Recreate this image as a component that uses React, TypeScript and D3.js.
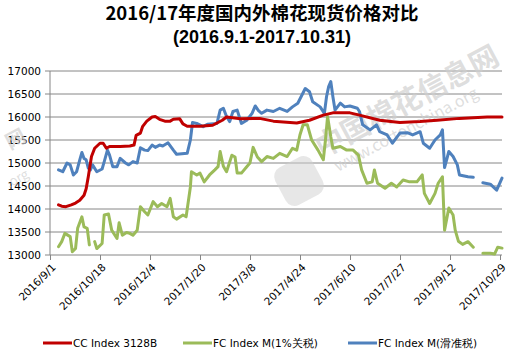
import React from "react";
import * as d3 from "d3";

const titleLine1 = "2016/17年度国内外棉花现货价格对比";
const titleLine2 = "(2016.9.1-2017.10.31)";

const yTicks = [13000, 13500, 14000, 14500, 15000, 15500, 16000, 16500, 17000];
const xTickDates = ["2016-09-01", "2016-10-18", "2016-12-04", "2017-01-20", "2017-03-08", "2017-04-24", "2017-06-10", "2017-07-27", "2017-09-12", "2017-10-29"];
const xTickLabels = ["2016/9/1", "2016/10/18", "2016/12/4", "2017/1/20", "2017/3/8", "2017/4/24", "2017/6/10", "2017/7/27", "2017/9/12", "2017/10/29"];

const seriesNames = ["CC Index 3128B", "FC Index M(1%关税)", "FC Index M(滑准税)"];
const seriesColors = ["#C00000", "#9BBB59", "#4F81BD"];

const ccIndex: [string, number | null][] = [
  ["2016-09-09", 14090], ["2016-09-12", 14060], ["2016-09-16", 14050], ["2016-09-21", 14090],
  ["2016-09-25", 14130], ["2016-09-29", 14190], ["2016-10-03", 14300], ["2016-10-05", 14440],
  ["2016-10-07", 14700], ["2016-10-10", 15140], ["2016-10-13", 15320], ["2016-10-18", 15430],
  ["2016-10-21", 15430], ["2016-10-24", 15320], ["2016-10-27", 15360], ["2016-11-06", 15360],
  ["2016-11-15", 15370], ["2016-11-19", 15390], ["2016-11-21", 15600], ["2016-11-25", 15650],
  ["2016-11-27", 15790], ["2016-12-01", 15910], ["2016-12-06", 16000], ["2016-12-09", 16010],
  ["2016-12-13", 15950], ["2016-12-18", 15910], ["2016-12-23", 15910], ["2016-12-26", 15950],
  ["2017-01-01", 15960], ["2017-01-04", 15850], ["2017-01-08", 15800], ["2017-01-20", 15800],
  ["2017-02-01", 15820], ["2017-02-10", 15930], ["2017-02-14", 16000], ["2017-02-27", 15960],
  ["2017-03-11", 15970], ["2017-03-17", 15970], ["2017-03-30", 15910], ["2017-04-21", 15870],
  ["2017-05-03", 15930], ["2017-05-16", 16040], ["2017-05-25", 16090], ["2017-06-10", 16090],
  ["2017-06-19", 16040], ["2017-07-08", 15930], ["2017-07-27", 15880], ["2017-08-15", 15900],
  ["2017-08-31", 15930], ["2017-09-21", 15970], ["2017-10-17", 16000], ["2017-10-31", 16000],
];

const fcIndex1pct: [string, number | null][] = [
  ["2016-09-09", 13180], ["2016-09-12", 13290], ["2016-09-15", 13470], ["2016-09-20", 13400],
  ["2016-09-22", 13070], ["2016-09-25", 13140], ["2016-09-27", 13580], ["2016-10-01", 13830],
  ["2016-10-03", 13610], ["2016-10-06", 13580], ["2016-10-08", 13220], ["2016-10-10", null],
  ["2016-10-13", 13290], ["2016-10-15", 13140], ["2016-10-20", 13250], ["2016-10-22", 13870],
  ["2016-10-26", 13890], ["2016-10-29", 13540], ["2016-11-03", 13360], ["2016-11-05", 13700],
  ["2016-11-08", 13430], ["2016-11-12", 13490], ["2016-11-15", 13470], ["2016-11-18", 13430],
  ["2016-11-22", 13540], ["2016-11-25", 14050], ["2016-11-29", 13940], ["2016-12-02", 13870],
  ["2016-12-07", 14160], ["2016-12-11", 14050], ["2016-12-15", 14120], ["2016-12-20", 14050],
  ["2016-12-23", 14230], ["2016-12-26", 13830], ["2016-12-29", 13780], ["2017-01-04", 13870],
  ["2017-01-07", 13830], ["2017-01-11", 14480], ["2017-01-12", 14810], ["2017-01-17", 14740],
  ["2017-01-20", 14780], ["2017-01-24", 14590], ["2017-01-29", 14740], ["2017-02-03", 14850],
  ["2017-02-06", 14920], ["2017-02-08", 15250], ["2017-02-11", 14930], ["2017-02-14", 14810],
  ["2017-02-19", 15170], ["2017-02-22", 15130], ["2017-02-24", 14780], ["2017-02-28", 14780],
  ["2017-03-05", 14920], ["2017-03-08", 15000], ["2017-03-11", 15340], ["2017-03-15", 15130],
  ["2017-03-19", 15030], ["2017-03-24", 15140], ["2017-03-30", 15100], ["2017-04-05", 15210],
  ["2017-04-12", 15140], ["2017-04-17", 15320], ["2017-04-21", 15280], ["2017-04-24", 15610],
  ["2017-04-27", 15830], ["2017-05-01", 15830], ["2017-05-05", 15500], ["2017-05-11", 15280],
  ["2017-05-16", 15070], ["2017-05-18", 15500], ["2017-05-20", 16010], ["2017-05-23", 15570],
  ["2017-05-25", 15320], ["2017-06-01", 15360], ["2017-06-07", 15280], ["2017-06-13", 15280],
  ["2017-06-18", 15170], ["2017-06-21", 14850], ["2017-06-26", 14560], ["2017-07-01", 14590],
  ["2017-07-03", 14850], ["2017-07-06", 14560], ["2017-07-13", 14450], ["2017-07-19", 14560],
  ["2017-07-24", 14480], ["2017-07-30", 14630], ["2017-08-05", 14590], ["2017-08-12", 14590],
  ["2017-08-17", 14740], ["2017-08-19", 14340], ["2017-08-24", 14120], ["2017-08-29", 14340],
  ["2017-09-01", 14560], ["2017-09-05", 14700], ["2017-09-07", 13540], ["2017-09-11", 14020],
  ["2017-09-15", 13870], ["2017-09-17", 13540], ["2017-09-20", 13300], ["2017-09-24", 13230],
  ["2017-09-29", 13290], ["2017-10-04", 13170], ["2017-10-08", null], ["2017-10-13", 13040],
  ["2017-10-20", 13040], ["2017-10-24", 13020], ["2017-10-27", 13170], ["2017-10-31", 13150],
];

const fcIndexSliding: [string, number | null][] = [
  ["2016-09-09", 14850], ["2016-09-13", 14810], ["2016-09-17", 15000], ["2016-09-20", 14960],
  ["2016-09-23", 14740], ["2016-09-26", 14810], ["2016-09-29", 15070], ["2016-10-01", 15230],
  ["2016-10-03", 15100], ["2016-10-05", 15070], ["2016-10-07", 14890], ["2016-10-09", 14850],
  ["2016-10-11", 14960], ["2016-10-15", 14810], ["2016-10-20", 14870], ["2016-10-22", 15030],
  ["2016-10-25", 15280], ["2016-10-27", 15170], ["2016-10-30", 14920], ["2016-11-03", 14920],
  ["2016-11-06", 15100], ["2016-11-11", 15000], ["2016-11-14", 14960], ["2016-11-18", 15030],
  ["2016-11-22", 15000], ["2016-11-25", 15330], ["2016-11-29", 15280], ["2016-12-02", 15270],
  ["2016-12-06", 15390], ["2016-12-09", 15340], ["2016-12-13", 15390], ["2016-12-16", 15370],
  ["2016-12-21", 15440], ["2016-12-26", 15280], ["2016-12-29", 15190], ["2017-01-08", 15210],
  ["2017-01-11", 15500], ["2017-01-13", 15880], ["2017-01-17", 15860], ["2017-01-23", 15790],
  ["2017-01-27", 15840], ["2017-02-05", 15860], ["2017-02-08", 16150], ["2017-02-11", 16190],
  ["2017-02-14", 16010], ["2017-02-17", 15900], ["2017-02-20", 16120], ["2017-02-24", 16150],
  ["2017-02-28", 15860], ["2017-03-05", 15930], ["2017-03-10", 16080], ["2017-03-13", 16240],
  ["2017-03-16", 16140], ["2017-03-19", 16080], ["2017-03-24", 16150], ["2017-03-30", 16120],
  ["2017-04-05", 16190], ["2017-04-12", 16120], ["2017-04-17", 16220], ["2017-04-22", 16300],
  ["2017-04-29", 16620], ["2017-05-03", 16550], ["2017-05-06", 16330], ["2017-05-13", 16220],
  ["2017-05-17", 16080], ["2017-05-19", 16440], ["2017-05-21", 16660], ["2017-05-23", 16770],
  ["2017-05-25", 16440], ["2017-05-27", 16150], ["2017-06-01", 16300], ["2017-06-05", 16220],
  ["2017-06-10", 16240], ["2017-06-17", 16190], ["2017-06-19", 16120], ["2017-06-22", 15830],
  ["2017-06-29", 15720], ["2017-07-05", 15830], ["2017-07-08", 15680], ["2017-07-15", 15610],
  ["2017-07-20", 15430], ["2017-07-27", 15650], ["2017-08-03", 15660], ["2017-08-08", 15610],
  ["2017-08-15", 15680], ["2017-08-18", 15430], ["2017-08-24", 15320], ["2017-08-29", 15500],
  ["2017-09-03", 15610], ["2017-09-05", 15720], ["2017-09-07", 14900], ["2017-09-11", 15250],
  ["2017-09-15", 15140], ["2017-09-19", 14960], ["2017-09-21", 14740], ["2017-09-29", 14700],
  ["2017-10-04", 14690], ["2017-10-08", null], ["2017-10-13", 14570], ["2017-10-20", 14540],
  ["2017-10-26", 14410], ["2017-10-31", 14670],
];

const parse = d3.utcParse("%Y-%m-%d");

export default function App() {
  const W = 519, H = 359;
  const left = 50, right = 502, top = 71, bottom = 255;
  const x = d3.scaleUtc().domain([parse("2016-09-01")!, parse("2017-10-31")!]).range([left, right]);
  const y = d3.scaleLinear().domain([13000, 17000]).range([bottom, top]);
  const line = d3
    .line<[string, number | null]>()
    .defined((d) => d[1] !== null)
    .x((d) => x(parse(d[0])!))
    .y((d) => y(d[1] as number));
  const allSeries = [ccIndex, fcIndex1pct, fcIndexSliding];
  const drawOrder = [1, 2, 0];
  const tickFont = "'DejaVu Sans', sans-serif";
  const legendX = [43, 183, 348];

  return (
    <div>
      <style>{`body{margin:0}`}</style>
      <svg width={W} height={H} style={{ display: "block", background: "#fff" }}>
        <text x={262} y={20} textAnchor="middle" fontFamily="'Noto Sans CJK SC', sans-serif" fontWeight="bold" fontSize={18.5} fill="#000">
          {titleLine1}
        </text>
        <text x={262} y={43} textAnchor="middle" fontFamily="'Liberation Sans', Arial, sans-serif" fontWeight="bold" fontSize={18} fill="#000">
          {titleLine2}
        </text>

        {/* grid */}
        {yTicks.map((t) => (
          <g key={t}>
            <line x1={left - 5} x2={right} y1={y(t)} y2={y(t)} stroke="#868686" strokeWidth={1} />
            <text x={41} y={y(t)} dy="0.35em" textAnchor="end" fontFamily={tickFont} fontSize={10.5} fill="#000">
              {t}
            </text>
          </g>
        ))}
        <line x1={left} x2={left} y1={top} y2={bottom} stroke="#868686" />
        {xTickDates.map((dstr, i) => {
          const xx = Math.round(x(parse(dstr)!)) + 0.5;
          return (
            <g key={dstr}>
              <line x1={xx} x2={xx} y1={bottom} y2={bottom + 5} stroke="#868686" />
              <text
                transform={`translate(${xx + 6},${bottom + 13}) rotate(-45)`}
                textAnchor="end"
                fontFamily={tickFont}
                fontSize={10.5}
                fill="#000"
              >
                {xTickLabels[i]}
              </text>
            </g>
          );
        })}

        {/* watermark */}
        <g fill="#cfcfcf" fillOpacity={0.7} fontFamily="'Noto Sans CJK SC', sans-serif" fontWeight="bold">
          <text transform="translate(322,158) rotate(-28)" fontSize={29}>中国棉花信息网</text>
          <text transform="translate(338,172) rotate(-28)" fontSize={16} fontWeight="normal">www.cottonchina.org</text>
          <rect x={278} y={160} width={42} height={42} rx={10} transform="rotate(-28 299 181)" fillOpacity={0.5} />
          <text transform="translate(10,150) rotate(-28)" fontSize={20}>网</text>
          <text transform="translate(9,188) rotate(-28)" fontSize={13} fontWeight="normal">.org</text>
        </g>

        {drawOrder.map((si) => (
          <path key={si} d={line(allSeries[si]) || ""} fill="none" stroke={seriesColors[si]} strokeWidth={3} strokeLinejoin="round" strokeLinecap="round" />
        ))}

        {/* legend */}
        {seriesNames.map((n, i) => (
          <g key={n}>
            <line x1={legendX[i]} x2={legendX[i] + 29} y1={343} y2={343} stroke={seriesColors[i]} strokeWidth={3} />
            <text x={legendX[i] + 30} y={343} dy="0.35em" fontFamily={tickFont} fontSize={10.5} fill="#000">
              {n}
            </text>
          </g>
        ))}
      </svg>
    </div>
  );
}
